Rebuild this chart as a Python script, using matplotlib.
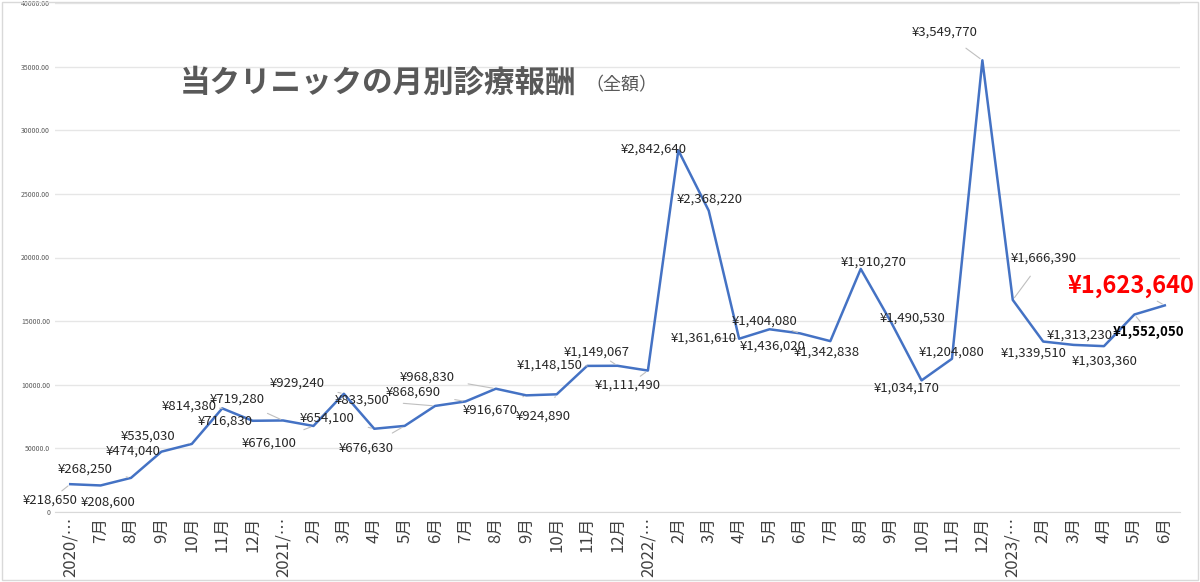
import numpy as np
import matplotlib
matplotlib.use('Agg')
import matplotlib.pyplot as plt

plt.rcParams['font.family'] = ['Noto Sans CJK JP', 'DejaVu Sans']

# month labels
months = (["2020/…", "7月", "8月", "9月", "10月", "11月", "12月"]
          + ["2021/…"] + [f"{m}月" for m in range(2, 13)]
          + ["2022/…"] + [f"{m}月" for m in range(2, 13)]
          + ["2023/…"] + [f"{m}月" for m in range(2, 7)])

# monthly revenue (yen)
revenue = [218650, 208600, 268250, 474040, 535030, 814380, 716830,
           719280, 676100, 929240, 654100, 676630, 833500, 868690, 968830,
           916670, 924890, 1148150, 1149067,
           1111490, 2842640, 2368220, 1361610, 1436020, 1404080, 1342838,
           1910270, 1490530, 1034170, 1204080, 3549770,
           1666390, 1339510, 1313230, 1303360, 1552050, 1623640]

# label offsets in pixels (dx, dy)
offsets = [(-20, -16), (7, -17), (-46, 9), (-28, 1), (-44, 8), (-33, 2), (-27, 0),
           (-46, 21), (-44, -17), (-47, 11), (-47, 11), (-38, -22), (-73, 6),
           (-52, 9), (-69, 12), (-36, -15), (-13, -22), (-37, 1), (-21, 14),
           (-20, -15), (-25, 1), (1, 12), (-35, 1), (3, -17), (-35, 12),
           (-4, -11), (13, 7), (21, 4), (-15, -8), (0, 7), (-38, 28),
           (31, 42), (-10, -12), (6, 10), (1, -15), (14, -17), (-34, 19)]

yticks = [0, 5000, 10000, 15000, 20000, 25000, 30000, 35000, 40000]
ytick_labels = ["0", "50000.0", "10000.00", "15000.00", "20000.00",
                "25000.00", "30000.00", "35000.00", "40000.00"]

fig = plt.figure(figsize=(12, 5.82), dpi=100)
fig.patches.append(plt.Rectangle((0.002, 0.003), 0.996, 0.994, transform=fig.transFigure,
                                 fill=False, edgecolor='#d9d9d9', lw=1))
ax = fig.add_axes([55/1200, 1-512/582, 1125/1200, 509/582])

x = np.arange(len(revenue))
y = np.array(revenue) / 100
ax.plot(x, y, color='#4472c4', lw=1.8)
ax.set_xlim(-0.5, len(revenue) - 0.5)
ax.set_ylim(0, 40000)
ax.set_yticks(yticks)
ax.set_yticklabels(ytick_labels, fontsize=5, color='#595959')
ax.set_xticks(x)
ax.set_xticklabels(months, rotation=90, fontsize=12, color='#404040')
ax.grid(axis='y', color='#e6e6e6', lw=1)
ax.set_axisbelow(True)
for s in ['top', 'right', 'left']:
    ax.spines[s].set_visible(False)
ax.spines['bottom'].set_color('#d9d9d9')
ax.tick_params(length=0)

for i, (v, (dx, dy)) in enumerate(zip(revenue, offsets)):
    txt = f"¥{v:,}"
    kw = dict(fontsize=9.5, color='#262626')
    if i == len(revenue) - 1:
        kw = dict(fontsize=17, color='#ff0000', fontweight='bold')
    elif i == len(revenue) - 2:
        kw = dict(fontsize=9.5, color='black', fontweight='bold')
    far = abs(dx) + abs(dy) > 30
    ax.annotate(txt, (i, y[i]), xytext=(dx, dy), textcoords='offset pixels',
                ha='center', va='center',
                arrowprops=dict(arrowstyle='-', color='#bfbfbf', lw=0.8,
                                shrinkA=8, shrinkB=2) if far else None,
                **kw)

fig.text(180/1200, 1-83/582, "当クリニックの月別診療報酬", fontsize=22, fontweight='bold',
         color='#595959', va='center')
fig.text(585/1200, 1-85/582, "（全額）", fontsize=13, color='#595959', va='center')

plt.savefig("out.png", dpi=100)
